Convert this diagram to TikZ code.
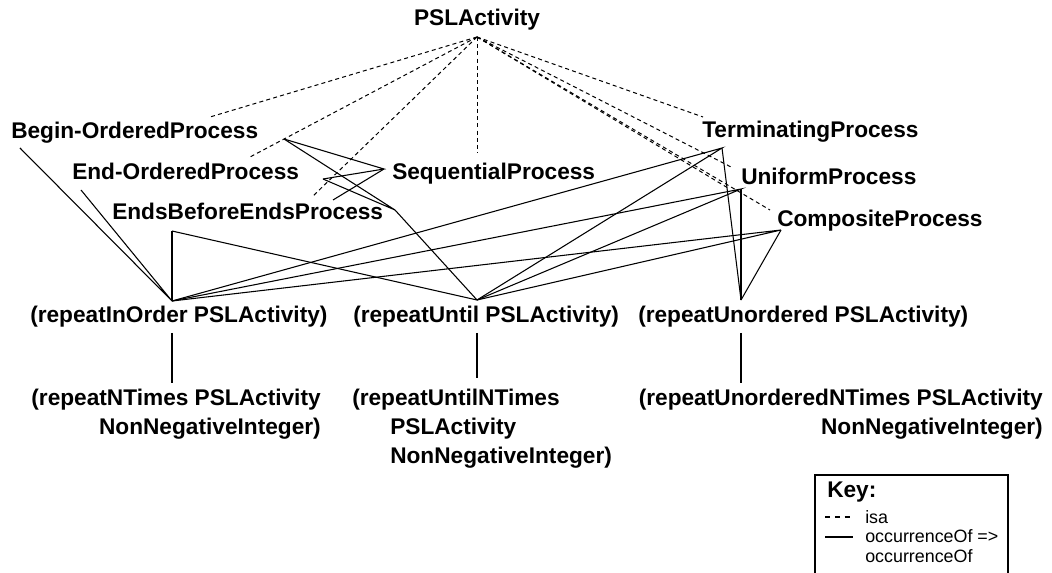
\documentclass[tikz,border=0pt]{standalone}
\usepackage{fontspec}
\setmainfont{Liberation Sans}
\usetikzlibrary{positioning}

\tikzset{
  concept/.style={inner sep=0pt,font=\bfseries\fontsize{17}{21.5}\selectfont},
  keytext/.style={inner sep=0pt,align=left,font=\fontsize{13.4}{14.3}\selectfont},
  isaline/.style={line width=0.75pt,dash pattern=on 3pt off 2.4pt},
  occline/.style={line width=0.8pt}
}

\begin{document}
\begin{tikzpicture}[x=0.75pt,y=-0.75pt]
  \useasboundingbox (0,0) rectangle (1052,573);

  % concepts
  \node[concept,anchor=base] (psl) at (477,26) {PSLActivity};
  \node[concept,anchor=base west] (bop) at (11,139) {Begin-OrderedProcess};
  \node[concept,anchor=base west] (eop) at (72,180) {End-OrderedProcess};
  \node[concept,anchor=base west] (ebe) at (112,220) {EndsBeforeEndsProcess};
  \node[concept,anchor=base west] (seq) at (392,180) {SequentialProcess};
  \node[concept,anchor=base west] (term) at (702,138) {TerminatingProcess};
  \node[concept,anchor=base west] (unif) at (741,185) {UniformProcess};
  \node[concept,anchor=base west] (comp) at (777,227) {CompositeProcess};

  % repeat terms (base = last line)
  \node[concept,anchor=base west] (rio) at (30,323) {(repeatInOrder PSLActivity)};
  \node[concept,anchor=base west] (ru) at (353,323) {(repeatUntil PSLActivity)};
  \node[concept,anchor=base west] (runo) at (638,323) {(repeatUnordered PSLActivity)};
  \node[concept,anchor=base east,align=right] (rnt) at (321,434)
    {(repeatNTimes PSLActivity\\NonNegativeInteger)};
  \node[concept,anchor=base west,align=left] (runt) at (352,463)
    {(repeatUntilNTimes\\\hspace*{28.5pt}PSLActivity\\\hspace*{28.5pt}NonNegativeInteger)};
  \node[concept,anchor=base east,align=right] (runont) at (1043,434)
    {(repeatUnorderedNTimes PSLActivity\\NonNegativeInteger)};

  % connector ends
  \coordinate (psl-foot) at (477,37);
  \coordinate (bop-isa) at (210,117);
  \coordinate (eop-isa) at (250,157);
  \coordinate (ebe-isa) at (312,197);
  \coordinate (seq-isa) at (477,153);
  \coordinate (term-isa) at (703,117);
  \coordinate (unif-isa) at (733,168);
  \coordinate (unif-isa2) at (728,188);
  \coordinate (comp-isa) at (770,210);

  \coordinate (rio-top) at (172,301);
  \coordinate (ru-top) at (477,300);
  \coordinate (runo-top) at (741,300);
  \coordinate (bop-l) at (20,148);
  \coordinate (bop-r) at (284,139);
  \coordinate (eop-l) at (81,190);
  \coordinate (eop-r) at (323,179);
  \coordinate (seq-l) at (384,169);
  \coordinate (ebe-t) at (333,200);
  \coordinate (ebe-r) at (395,210);
  \coordinate (ebe-b) at (172,231);
  \coordinate (term-o) at (722,148);
  \coordinate (unif-o) at (741,189);
  \coordinate (comp-o) at (781,230);

  \coordinate (rio-bot) at (172,333);
  \coordinate (rnt-top) at (172,383);
  \coordinate (ru-bot) at (477,333);
  \coordinate (runt-top) at (477,378);
  \coordinate (runo-bot) at (741,333);
  \coordinate (runont-top) at (741,383);

  % isa
  \foreach \sub in {bop-isa,eop-isa,ebe-isa,seq-isa,term-isa,unif-isa,unif-isa2,comp-isa}
    \draw[isaline] (psl-foot) -- (\sub);

  % occurrenceOf
  \draw[occline] (bop-l) -- (rio-top) -- (eop-l);
  \draw[occline] (ebe-b) -- (rio-top);
  \draw[occline] (ebe-b) -- (ru-top);
  \draw[occline] (bop-r) -- (seq-l) -- (eop-r);
  \draw[occline] (ebe-t) -- (seq-l);
  \draw[occline] (bop-r) -- (ebe-r) -- (eop-r);
  \draw[occline] (ebe-r) -- (ru-top);
  \foreach \sup in {term-o,unif-o,comp-o}{
    \draw[occline] (rio-top) -- (\sup) -- (ru-top);
    \draw[occline] (\sup) -- (runo-top);
  }
  \draw[occline] (rio-bot) -- (rnt-top);
  \draw[occline] (ru-bot) -- (runt-top);
  \draw[occline] (runo-bot) -- (runont-top);

  % key
  \draw[line width=1.5pt] (815,475) rectangle (1008,600);
  \node[concept,anchor=base west] (keyhead) at (827,497) {Key:};
  \node[keytext,anchor=base west] (keyisa) at (865,523) {isa};
  \node[keytext,anchor=base west] (keyocc) at (865,562) {occurrenceOf =>\\occurrenceOf};
  \draw[line width=0.9pt,dash pattern=on 4pt off 3.4pt] (825,517) -- (851,517);
  \draw[line width=1.1pt] (825,537) -- (853,537);
\end{tikzpicture}
\end{document}
